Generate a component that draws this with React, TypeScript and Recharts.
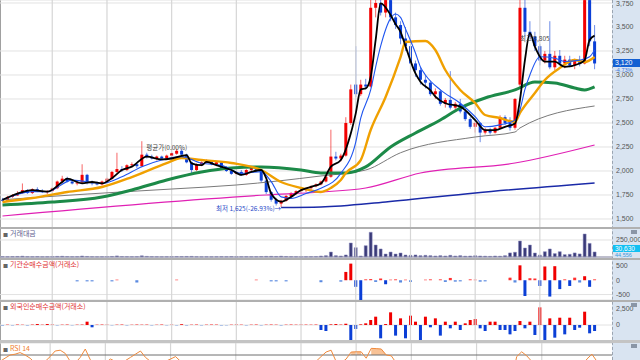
import React from "react";
import {
  ComposedChart,
  Bar,
  Line,
  Area,
  XAxis,
  YAxis,
  CartesianGrid,
  ReferenceLine,
  ReferenceDot,
  Cell,
} from "recharts";

const W = 640;
const AXIS_W = 28;
const PAD = 3; // empty slots right of the last candle
const FONT = '"Liberation Sans", "Noto Sans CJK KR", sans-serif';
const KFONT = '"Noto Sans CJK KR", "Liberation Sans", sans-serif';

// daily candles
const open = [
  1700, 1690, 1730, 1745, 1770, 1800, 1770, 1810, 1790, 1780,
  1790, 1820, 1890, 1920, 1890, 1870, 1880, 1960, 1880, 1870,
  1860, 1890, 1920, 1990, 2020, 2010, 2060, 2070, 2050, 2170,
  2150, 2130, 2150, 2130, 2160, 2180, 2210, 2170, 2090, 2010,
  2070, 2090, 2100, 2070, 2090, 2030, 2000, 1970, 1990, 1960,
  2010, 2030, 2000, 1900, 1780, 1700, 1660, 1690, 1740, 1770,
  1790, 1800, 1820, 1840, 1860, 1890, 1940, 2150, 2130, 2160,
  2500, 2900, 2800, 2900, 2880, 3700, 3750, 3650, 3780, 3600,
  3520, 3380, 3300, 3120, 3050, 2950, 2920, 2800, 2830, 2700,
  2740, 2660, 2700, 2620, 2540, 2460, 2500, 2400, 2430, 2400,
  2450, 2560, 2500, 2450, 2900, 3700, 3450, 3400, 3300, 3150,
  3220, 3080, 3200, 3120, 3160, 3100, 3150, 3120, 3780, 3350,
];
const high = [
  1720, 1740, 1760, 1790, 1870, 1810, 1820, 1830, 1810, 1800,
  1830, 1900, 1950, 1940, 1900, 1900, 2070, 1970, 1900, 1890,
  1900, 1930, 2000, 2190, 2050, 2070, 2090, 2080, 2310, 2190,
  2170, 2160, 2160, 2170, 2200, 2230, 2230, 2180, 2100, 2080,
  2100, 2120, 2110, 2100, 2100, 2050, 2020, 2000, 2010, 2020,
  2040, 2050, 2010, 1910, 1790, 1720, 1700, 1750, 1780, 1800,
  1820, 1830, 1850, 1870, 1900, 1960, 2430, 2200, 2180, 2560,
  2900, 3300, 2950, 2960, 3790, 3790, 3790, 3790, 3790, 3650,
  3560, 3500, 3350, 3150, 3080, 3000, 2940, 2860, 2850, 2760,
  3040, 2720, 2750, 2650, 2560, 2520, 2510, 2450, 2450, 2460,
  2580, 2580, 2560, 2760, 3790, 3790, 3560, 3450, 3320, 3250,
  3560, 3250, 3260, 3200, 3200, 3170, 3200, 3790, 3790, 3520,
];
const low = [
  1680, 1690, 1720, 1740, 1760, 1760, 1760, 1780, 1770, 1760,
  1780, 1810, 1870, 1880, 1860, 1850, 1870, 1860, 1850, 1850,
  1850, 1880, 1910, 1980, 1990, 2000, 2040, 2030, 2040, 2130,
  2120, 2110, 2120, 2120, 2150, 2170, 2160, 2080, 1960, 2000,
  2050, 2080, 2060, 2050, 2020, 1990, 1960, 1950, 1950, 1950,
  2000, 1990, 1880, 1760, 1680, 1640, 1625, 1680, 1720, 1750,
  1770, 1780, 1800, 1830, 1850, 1880, 1930, 2110, 2100, 2150,
  2480, 2770, 2780, 2850, 2870, 3600, 3620, 3600, 3560, 3480,
  3320, 3250, 3080, 2980, 2900, 2860, 2780, 2750, 2680, 2660,
  2640, 2620, 2600, 2520, 2440, 2400, 2300, 2380, 2380, 2390,
  2440, 2480, 2420, 2430, 2880, 3400, 3380, 3250, 3100, 3120,
  3060, 3050, 3100, 3070, 3080, 3060, 3090, 3110, 3300, 3060,
];
const close = [
  1690, 1730, 1745, 1770, 1800, 1770, 1810, 1790, 1780, 1790,
  1820, 1890, 1920, 1890, 1870, 1880, 1960, 1880, 1870, 1860,
  1890, 1920, 1990, 2020, 2010, 2060, 2070, 2050, 2170, 2150,
  2130, 2150, 2130, 2160, 2180, 2210, 2170, 2090, 2010, 2070,
  2090, 2100, 2070, 2090, 2030, 2000, 1970, 1990, 1960, 2010,
  2030, 2000, 1900, 1780, 1700, 1660, 1690, 1740, 1770, 1790,
  1800, 1820, 1840, 1860, 1890, 1940, 2150, 2130, 2160, 2500,
  2850, 2800, 2900, 2880, 3700, 3750, 3650, 3780, 3600, 3520,
  3380, 3300, 3120, 3050, 2950, 2920, 2800, 2830, 2700, 2740,
  2660, 2700, 2620, 2540, 2460, 2500, 2400, 2430, 2400, 2450,
  2560, 2500, 2450, 2750, 3700, 3450, 3400, 3300, 3150, 3220,
  3080, 3200, 3120, 3160, 3100, 3150, 3120, 3780, 3350, 3120,
];

// 거래대금
const volume = [
  5000, 4000, 6000, 8000, 12000, 5000, 4000, 6000, 3000, 4000,
  5000, 9000, 11000, 6000, 4000, 5000, 15000, 8000, 4000, 3000,
  4000, 5000, 8000, 16000, 6000, 5000, 4000, 5000, 18000, 9000,
  5000, 4000, 3000, 4000, 5000, 7000, 6000, 8000, 9000, 4000,
  3000, 4000, 3000, 4000, 5000, 4000, 6000, 3000, 4000, 5000,
  4000, 5000, 7000, 9000, 10000, 8000, 12000, 7000, 5000, 4000,
  3000, 4000, 5000, 6000, 15000, 20000, 73000, 20000, 15000, 30000,
  206000, 137000, 15000, 166000, 363000, 176000, 118000, 44000, 73000, 44000,
  59000, 29000, 25000, 30000, 20000, 25000, 20000, 15000, 20000, 15000,
  25000, 15000, 20000, 12000, 15000, 20000, 15000, 12000, 10000, 15000,
  12000, 20000, 60000, 70000, 235000, 132000, 176000, 59000, 30000, 78000,
  118000, 50000, 78000, 35000, 40000, 60000, 45000, 338000, 200000, 74000,
];

// 기관순매수금액
const institution = [
  0, 0, 0, 0, 0, 0, 0, 0, 0, 0,
  0, 0, 0, 0, 0, -40, 0, -40, -40, 0,
  0, 0, -40, 20, 0, 0, 0, -80, 0, 0,
  0, 0, 0, 0, 0, 20, 0, 0, 0, 0,
  0, 0, 0, 0, 0, 0, 0, 0, 0, 0,
  0, 20, 0, 0, -40, -40, 0, -40, 0, 0,
  0, 0, 0, 0, -70, 0, 0, 0, -50, 290,
  580, -230, -690, 30, 40, -60, 60, -140, 20, 30,
  -80, 20, -60, 0, 0, 20, 30, 0, 30, -60,
  80, -50, -40, 0, 30, 20, -50, -40, 0, 0,
  0, 0, 90, -80, 520, -550, 70, 60, -200, 480,
  -570, 490, -310, 30, -200, 90, -80, 140, -230, 30,
];

// 외국인순매수금액
const foreign = [
  -80, 60, -60, 80, 50, -70, 60, 150, 60, 150,
  80, -60, 60, 80, -50, 60, 80, 520, -360, 60,
  80, 60, -50, 60, 80, -60, 50, 80, 60, 70,
  -60, 50, 80, -50, 60, -60, 120, -70, 60, 80,
  -60, 60, 80, 70, -70, -50, 60, 80, 60, -60,
  60, 80, -60, 60, 80, 60, -70, 60, 80, 60,
  80, 70, 60, 80, -780, -940, 100, 150, 80, 200,
  -2600, -620, 100, 260, 780, 1300, -2080, 150, 1980, -1660,
  1040, -2080, 1460, 520, -2600, 1300, -360, 1040, -1660, 520,
  -520, 520, -780, 260, 780, 940, -520, -940, 520, 520,
  -780, -780, -1460, -940, 620, -520, 520, -1560, 2760, -2340,
  1040, -1980, 1140, -1460, 1140, -780, -420, 2080, -1300, -940,
];

// RSI 14
const rsi = [
  62, 66, 70, 71, 73, 70, 66, 60, 58, 62,
  68, 75, 76, 72, 62, 60, 67, 77.5, 64, 58,
  56, 60, 65, 62, 60, 63, 67, 71, 75, 67,
  62, 58, 60, 62, 65, 68, 62, 50, 45, 48,
  52, 55, 50, 52, 46, 44, 42, 45, 43, 47,
  50, 46, 38, 32, 28, 26, 32, 40, 45, 50,
  54, 57, 60, 62, 68, 73.7, 76, 62, 60, 65,
  73.7, 74, 74, 66, 78.3, 78, 77.5, 70, 69, 60,
  55, 52, 48, 46, 44, 43, 40, 42, 40, 42,
  40, 41, 39, 36, 34, 36, 33, 36, 35, 38,
  42, 40, 38, 68, 74, 69, 62, 58, 54, 56,
  52, 55, 53, 54, 52, 54, 55, 65, 71, 62,
];
const rsiShaded: [number, number][] = [
  [70, 73.7], [71, 74], [72, 74],
  [74, 78.3], [75, 78], [76, 77.5], [77, 70],
];

// moving averages, read at points along each curve: [day, price]
const ma5: [number, number][] = [
  [0, 1700], [3, 1765], [6, 1800], [9, 1785], [12, 1885], [13, 1920], [16, 1870],
  [18, 1885], [20, 1870], [22, 1925], [24, 2010], [26, 2045], [29, 2150], [32, 2120],
  [34, 2130], [37, 2165], [38, 2080], [40, 2060], [41, 2095], [43, 2060], [46, 2010],
  [48, 1960], [50, 1990], [52, 2010], [53, 1925], [54, 1765], [56, 1680], [58, 1730],
  [60, 1800], [62, 1835], [64, 1870], [66, 2045], [68, 2115], [70, 2390], [71, 2600],
  [72, 2850], [73, 2860], [74, 2980], [75, 3365], [76, 3746], [78, 3625], [79, 3530],
  [80, 3450], [81, 3300], [83, 3017], [84, 2930], [86, 2840], [87, 2775], [89, 2705],
  [92, 2670], [95, 2530], [97, 2425], [99, 2425], [101, 2460], [103, 2495], [104, 2740],
  [105, 3155], [106, 3435], [107, 3295], [109, 3140], [111, 3140], [113, 3085],
  [116, 3120], [117, 3155], [118, 3365], [119, 3410],
];
const ma10: [number, number][] = [
  [0, 1700], [6, 1785], [9, 1785], [14, 1905], [20, 1870], [24, 1940], [28, 2045],
  [32, 2115], [36, 2150], [40, 2080], [44, 2060], [48, 1975], [52, 1993], [54, 1890],
  [56, 1730], [58, 1715], [61, 1765], [64, 1819], [68, 1975], [71, 2300], [72, 2550],
  [74, 2844], [75, 3083], [76, 3300], [78, 3590], [79, 3635], [80, 3600], [81, 3480],
  [83, 3229], [84, 3083], [85, 3000], [88, 2845], [92, 2705], [95, 2565], [97, 2460],
  [100, 2480], [103, 2530], [104, 2635], [105, 2850], [106, 3000], [108, 3190],
  [111, 3175], [113, 3140], [116, 3155], [118, 3190], [119, 3260],
];
const ma20: [number, number][] = [
  [0, 1677], [6, 1718], [13, 1781], [20, 1833], [26, 1937], [33, 2083], [36, 2135],
  [40, 2114], [46, 2083], [52, 2010], [56, 1885], [60, 1823], [64, 1781], [66, 1823],
  [68, 1906], [69, 1979], [72, 2114], [74, 2427], [77, 2771], [80, 3187], [81, 3343],
  [85, 3354], [87, 3260], [89, 3052], [92, 2844], [95, 2708], [97, 2583], [100, 2552],
  [103, 2510], [104, 2604], [107, 2812], [109, 2948], [112, 3073], [115, 3156],
  [117, 3135], [119, 3187],
];
const ma60: [number, number][] = [
  [0, 1646], [10, 1677], [20, 1729], [26, 1802], [33, 1906], [40, 1989], [46, 2031],
  [52, 2042], [60, 2010], [64, 1979], [69, 1979], [73, 2042], [78, 2250], [83, 2396],
  [88, 2531], [92, 2656], [97, 2760], [103, 2844], [107, 2927], [111, 2917],
  [115, 2864], [117, 2844], [119, 2875],
];
const ma120: [number, number][] = [
  [0, 1700], [17, 1760], [34, 1812], [47, 1854], [64, 1948], [73, 2010], [80, 2190],
  [95, 2354], [103, 2406], [104, 2448], [119, 2677],
];
const ma240: [number, number][] = [
  [0, 1531], [53, 1750], [64, 1781], [73, 1823], [84, 1979], [103, 2083], [119, 2271],
];
const ma480: [number, number][] = [
  [56, 1620], [64, 1625], [77, 1677], [95, 1771], [119, 1875],
];

const monthLines = [10, 21, 34, 47, 60, 71, 82, 95, 108];
const priceTicks = [1500, 1750, 2000, 2250, 2500, 2750, 3000, 3250, 3500, 3750];

const at = (pts: [number, number][], i: number) => {
  const p = pts.find((q) => q[0] === i);
  return p ? p[1] : null;
};

const rows = Array.from({ length: close.length + PAD }, (_, i) => {
  const has = i < close.length;
  return {
    i,
    o: has ? open[i] : null,
    h: has ? high[i] : null,
    l: has ? low[i] : null,
    c: has ? close[i] : null,
    range: has ? [low[i], high[i]] : null,
    ma5: at(ma5, i),
    ma10: at(ma10, i),
    ma20: at(ma20, i),
    ma60: at(ma60, i),
    ma120: at(ma120, i),
    ma240: at(ma240, i),
    ma480: at(ma480, i),
    vol: has ? volume[i] : null,
    inst: has ? institution[i] : null,
    frgn: has ? foreign[i] : null,
    rsi: has ? rsi[i] : null,
    rsiZone: at(rsiShaded, i),
  };
});

const fmt = (v: number) => v.toLocaleString("en-US");
const tickStyle = { fontSize: 7, fill: "#555", fontFamily: FONT };

function Candle(props: any) {
  const { x, y, width, height, payload } = props;
  if (!payload || payload.c == null) return null;
  const { o, h, l, c } = payload;
  const color = c >= o ? "#f20000" : "#0b3fd6";
  const k = h === l ? 0 : height / (h - l);
  const top = y + (h - Math.max(o, c)) * k;
  const bot = y + (h - Math.min(o, c)) * k;
  const cx = x + width / 2;
  return (
    <g>
      <line x1={cx} x2={cx} y1={y} y2={y + height} stroke={color} strokeOpacity={0.6} />
      <rect x={x} y={top} width={width} height={Math.max(1, bot - top)} fill={color} />
    </g>
  );
}

// red for buying, blue for selling; small amounts paler
const barColor = (v: number) =>
  v >= 0 ? (v < 100 ? "#ff3030" : "#f00000") : v > -100 ? "#5b8ae0" : "#0b3fd6";

function PanelLabel({ top, text, color }: { top: number; text: string; color: string }) {
  return (
    <div
      style={{
        position: "absolute",
        left: 3,
        top,
        fontSize: 7,
        lineHeight: "8px",
        color,
        fontFamily: KFONT,
        whiteSpace: "nowrap",
      }}
    >
      <span style={{ color: "#666", fontSize: 5, marginRight: 2 }}>■</span>
      {text}
    </div>
  );
}

const sep = (top: number, h = 2, bg = "#b0b0b0") => (
  <div style={{ position: "absolute", left: 0, top, width: W, height: h, background: bg }} />
);

const line = (key: string, color: string, w: number) => (
  <Line
    key={key}
    dataKey={key}
    type="monotone"
    stroke={color}
    strokeWidth={w}
    dot={false}
    activeDot={false}
    connectNulls
    isAnimationActive={false}
  />
);

export default function App() {
  const vLines = monthLines.map((m) => (
    <ReferenceLine key={m} x={m} stroke="#d6d6d6" strokeWidth={1.2} />
  ));
  const sub = { top: 0, right: 0, bottom: 0, left: 0 };
  return (
    <div
      style={{
        position: "absolute",
        left: 0,
        top: 0,
        width: W,
        height: 360,
        overflow: "hidden",
        background: "#fff",
        fontFamily: FONT,
      }}
    >
      <div
        style={{
          position: "absolute",
          left: W - AXIS_W,
          top: 0,
          width: AXIS_W,
          height: 360,
          background: "#d9e4f1",
          borderLeft: "1px dashed #9aa4b0",
        }}
      />
      <div style={{ position: "absolute", left: 0, top: 0, width: 1, height: 360, background: "#a0a0a0" }} />

      {/* price */}
      <div style={{ position: "absolute", left: 0, top: 0 }}>
        <ComposedChart width={W} height={228} data={rows} margin={sub}>
          <CartesianGrid stroke="#e2e2e2" vertical={false} />
          <XAxis dataKey="i" hide />
          <YAxis
            orientation="right"
            width={AXIS_W}
            domain={[1406, 3781]}
            ticks={priceTicks}
            allowDataOverflow
            tick={tickStyle}
            tickLine={false}
            axisLine={false}
            tickSize={2}
            tickMargin={2}
            tickFormatter={fmt}
          />
          {vLines}
          {line("ma480", "#1a2aa8", 1.5)}
          {line("ma240", "#e020b4", 1.2)}
          {line("ma120", "#7a7a7a", 1)}
          {line("ma60", "#1c8a48", 3)}
          {line("ma20", "#f0a000", 2.4)}
          <Bar dataKey="range" barSize={3} shape={(p: any) => <Candle {...p} />} isAnimationActive={false} />
          {line("ma10", "#1f55f0", 1.1)}
          {line("ma5", "#000", 1.8)}
          <ReferenceDot
            x={33}
            y={2245}
            r={0}
            stroke="none"
            fill="none"
            label={{ value: "평균가(0.00%)", position: "center", fontSize: 6.5, fill: "#444", fontFamily: KFONT }}
          />
          <ReferenceDot
            x={34}
            y={2175}
            r={0}
            stroke="none"
            fill="none"
            label={{ value: "▼", position: "center", fontSize: 5, fill: "#e00000" }}
          />
          <ReferenceDot
            x={56}
            y={1605}
            r={0}
            stroke="none"
            fill="none"
            label={{ value: "최저 1,625(-26.93%)→", position: "left", offset: 0, fontSize: 6.5, fill: "#2c4cc8", fontFamily: KFONT }}
          />
          <ReferenceDot
            x={104}
            y={3380}
            r={0}
            stroke="none"
            fill="none"
            label={{ value: "최고 3,805", position: "right", offset: 0, fontSize: 6.5, fill: "#444", fontFamily: KFONT }}
          />
        </ComposedChart>
      </div>

      {/* volume */}
      <div style={{ position: "absolute", left: 0, top: 228 }}>
        <ComposedChart width={W} height={30} data={rows} margin={{ ...sub, bottom: 1 }}>
          <CartesianGrid stroke="#e2e2e2" vertical={false} />
          <XAxis dataKey="i" hide />
          <YAxis
            orientation="right"
            width={AXIS_W}
            domain={[0, 426000]}
            ticks={[250000]}
            tick={tickStyle}
            tickLine={false}
            axisLine={false}
            tickSize={2}
            tickMargin={2}
            tickFormatter={fmt}
          />
          {vLines}
          <ReferenceLine y={0} stroke="#8a8aa8" />
          <Bar dataKey="vol" barSize={3} fill="#3a3a78" stroke="#8c8cc0" strokeWidth={0.5} isAnimationActive={false} />
        </ComposedChart>
      </div>

      {/* 기관 */}
      <div style={{ position: "absolute", left: 0, top: 259 }}>
        <ComposedChart width={W} height={41} data={rows} margin={sub}>
          <CartesianGrid stroke="#e2e2e2" vertical={false} />
          <XAxis dataKey="i" hide />
          <YAxis
            orientation="right"
            width={AXIS_W}
            domain={[-672, 741]}
            ticks={[500, 0, -500]}
            tick={tickStyle}
            tickLine={false}
            axisLine={false}
            tickSize={2}
            tickMargin={2}
            tickFormatter={fmt}
          />
          {vLines}
          <Bar dataKey="inst" barSize={3} isAnimationActive={false}>
            {rows.map((r) => (
              <Cell key={r.i} fill={barColor(r.inst ?? 0)} />
            ))}
          </Bar>
        </ComposedChart>
      </div>

      {/* 외국인 */}
      <div style={{ position: "absolute", left: 0, top: 301 }}>
        <ComposedChart width={W} height={41} data={rows} margin={sub}>
          <CartesianGrid stroke="#e2e2e2" vertical={false} />
          <XAxis dataKey="i" hide />
          <YAxis
            orientation="right"
            width={AXIS_W}
            domain={[-2656, 3750]}
            ticks={[2500, 0]}
            tick={tickStyle}
            tickLine={false}
            axisLine={false}
            tickSize={2}
            tickMargin={2}
            tickFormatter={fmt}
          />
          {vLines}
          <ReferenceLine y={-2500} stroke="#e2e2e2" />
          <Bar dataKey="frgn" barSize={3} isAnimationActive={false}>
            {rows.map((r) => (
              <Cell key={r.i} fill={barColor(r.frgn ?? 0)} />
            ))}
          </Bar>
        </ComposedChart>
      </div>

      {/* RSI */}
      <div style={{ position: "absolute", left: 0, top: 343 }}>
        <ComposedChart width={W} height={30} data={rows} margin={sub}>
          <CartesianGrid stroke="#e2e2e2" vertical={false} />
          <XAxis dataKey="i" hide />
          <YAxis
            orientation="right"
            width={AXIS_W}
            domain={[47.5, 85]}
            ticks={[75]}
            allowDataOverflow
            tick={tickStyle}
            tickLine={false}
            axisLine={false}
            tickSize={2}
            tickMargin={2}
            tickFormatter={(v: number) => v.toFixed(2)}
          />
          {vLines}
          <ReferenceLine y={70} stroke="#6e6e6e" />
          <Area dataKey="rsiZone" baseValue={70} type="linear" stroke="none" fill="#f5a86a" fillOpacity={0.7} dot={false} activeDot={false} isAnimationActive={false} />
          <Line dataKey="rsi" type="linear" stroke="#f08a3c" strokeWidth={1} dot={false} activeDot={false} isAnimationActive={false} />
        </ComposedChart>
      </div>

      {sep(227)}
      {sep(257.5)}
      {sep(299.5)}
      {sep(340, 3, "#c4c4c4")}

      <PanelLabel top={229} text="거래대금" color="#5c5c8c" />
      <PanelLabel top={260} text="기관순매수금액(거래소)" color="#e03030" />
      <PanelLabel top={302} text="외국인순매수금액(거래소)" color="#e03030" />
      <PanelLabel top={344} text="RSI 14" color="#f08030" />

      {[230, 303, 344].map((t) => (
        <div key={t} style={{ position: "absolute", left: 631, top: t, width: 6, height: 4, background: "#8a96a6" }} />
      ))}

      <div
        style={{
          position: "absolute",
          left: 613,
          top: 59,
          width: 27,
          height: 8,
          background: "#1460d2",
          color: "#fff",
          fontSize: 7,
          lineHeight: "8px",
          paddingLeft: 2,
        }}
      >
        3,120
      </div>
      <div style={{ position: "absolute", left: 615, top: 66.5, fontSize: 5.5, lineHeight: "6px", color: "#3b78e0" }}>
        -4.73%
      </div>
      <div
        style={{
          position: "absolute",
          left: 613,
          top: 245,
          width: 27,
          height: 7,
          background: "#12c0f2",
          color: "#fff",
          fontSize: 6.5,
          lineHeight: "7px",
          paddingLeft: 2,
        }}
      >
        30,630
      </div>
      <div style={{ position: "absolute", left: 615, top: 252, fontSize: 5.5, lineHeight: "6px", color: "#3b9be0" }}>
        44,556
      </div>
    </div>
  );
}
